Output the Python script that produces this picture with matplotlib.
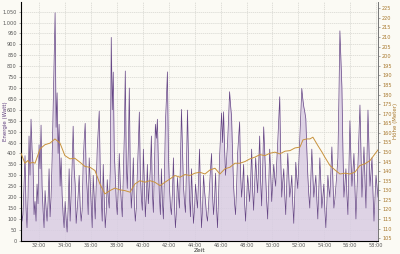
import numpy as np
import matplotlib
matplotlib.use("Agg")
import matplotlib.pyplot as plt
from matplotlib.ticker import FuncFormatter, MultipleLocator

# time range of the ride (seconds)
t_start = 1837
t_end = 3488

# power (Watt), evenly sampled between t_start and t_end
power = [240, 90, 120, 250, 390, 150, 60, 200, 480, 300,
         557, 420, 350, 120, 180, 90, 260, 170, 440, 330,
         530, 250, 140, 60, 230, 150, 90, 180, 330, 110,
         200, 370, 600, 820, 1045, 520, 678, 400, 534, 250,
         380, 210, 120, 60, 180, 100, 40, 150, 330, 90,
         210, 350, 525, 330, 260, 80, 140, 210, 300, 160,
         90, 140, 360, 460, 538, 310, 230, 120, 380, 270,
         150, 60, 300, 200, 100, 250, 420, 510, 594, 330,
         200, 90, 350, 190, 60, 130, 280, 200, 150, 320,
         932, 600, 773, 410, 300, 180, 120, 240, 400, 260,
         180, 110, 300, 480, 778, 350, 240, 420, 700, 300,
         150, 230, 380, 170, 90, 150, 310, 440, 590, 310,
         200, 140, 420, 260, 110, 200, 350, 170, 250, 330,
         480, 220, 130, 320, 534, 470, 557, 350, 200, 120,
         330, 180, 100, 290, 539, 650, 774, 400, 250, 160,
         120, 220, 380, 170, 60, 130, 290, 210, 150, 360,
         602, 420, 250, 180, 130, 340, 599, 380, 200, 110,
         330, 190, 80, 140, 260, 200, 150, 270, 420, 210,
         60, 140, 300, 230, 180, 120, 90, 160, 250, 330,
         400, 210, 120, 190, 310, 150, 60, 200, 380, 480,
         586, 450, 591, 420, 300, 370, 450, 560, 683, 620,
         568, 390, 250, 170, 120, 250, 400, 470, 545, 300,
         200, 260, 350, 170, 90, 190, 300, 240, 180, 280,
         420, 230, 140, 260, 380, 290, 220, 350, 480, 270,
         160, 330, 522, 410, 300, 180, 100, 250, 420, 310,
         180, 260, 350, 290, 250, 360, 450, 560, 660, 380,
         200, 270, 330, 210, 120, 260, 400, 300, 200, 240,
         300, 170, 80, 210, 360, 290, 240, 350, 460, 580,
         698, 650, 614, 590, 560, 420, 300, 210, 150, 280,
         420, 300, 200, 250, 300, 190, 100, 240, 380, 260,
         150, 200, 260, 140, 60, 170, 300, 240, 200, 310,
         430, 280, 150, 190, 250, 310, 380, 650, 962, 830,
         705, 420, 200, 260, 330, 210, 120, 330, 550, 380,
         250, 320, 400, 240, 100, 220, 350, 480, 622, 410,
         200, 310, 430, 280, 150, 370, 599, 420, 250, 310,
         380, 220, 90, 190, 300, 250, 200]

# elevation (Meter)
elev_time = [1837, 1855, 1869, 1878, 1892, 1902, 1925, 1948, 1971, 1994,
             2017, 2040, 2063, 2086, 2110, 2133, 2156, 2179, 2202, 2225,
             2248, 2271, 2295, 2318, 2341, 2364, 2387, 2410, 2433, 2456,
             2480, 2503, 2526, 2549, 2572, 2595, 2618, 2641, 2664, 2688,
             2711, 2734, 2757, 2780, 2803, 2826, 2849, 2873, 2896, 2919,
             2942, 2965, 2988, 3011, 3034, 3058, 3081, 3104, 3127, 3141,
             3159, 3173, 3187, 3210, 3229, 3242, 3266, 3289, 3312, 3335,
             3358, 3381, 3404, 3427, 3451, 3474, 3488]
elevation = [149.3, 144.1, 145.5, 144.1, 144.6, 144.1, 151.6, 153.8, 154.6, 156.8,
             154.7, 148.1, 146.4, 146.7, 144.6, 142.4, 142.0, 140.3, 133.3, 128.1,
             129.8, 131.1, 130.2, 129.8, 129.0, 133.3, 135.0, 134.2, 135.0, 134.2,
             132.4, 134.2, 135.9, 137.7, 136.8, 138.2, 137.7, 138.9, 139.4, 138.5,
             140.6, 141.5, 138.5, 141.2, 142.0, 144.1, 144.1, 145.0, 146.4, 147.3,
             148.6, 148.1, 149.3, 149.9, 149.0, 150.4, 150.7, 152.1, 152.5, 156.3,
             156.8, 156.8, 157.7, 153.3, 149.9, 147.3, 142.9, 140.6, 138.5, 138.9,
             138.5, 139.4, 142.9, 143.8, 145.5, 149.0, 151.1]

bg = '#fbfaf4'
purple = '#5e3d7e'
line_col = '#654585'
fill_col = '#d9cde3'
orange = '#c8923c'
tick_col = '#555555'

power_time = np.linspace(t_start, t_end, len(power))

fig = plt.figure(figsize=(4, 2.54), dpi=100, facecolor=bg)
ax = fig.add_axes([0.0525, 0.052, 0.8925, 0.94], facecolor=bg)

ax.fill_between(power_time, power, 0, color=fill_col, alpha=0.85, lw=0, zorder=2)
ax.plot(power_time, power, color=line_col, lw=0.5, zorder=3)

ax.set_xlim(t_start, t_end)
ax.set_ylim(0, 1094)
ax.yaxis.set_major_locator(MultipleLocator(50))
ax.xaxis.set_major_locator(MultipleLocator(120))
ax.xaxis.set_major_formatter(FuncFormatter(lambda v, p: '%d:%02d' % (v // 60, v % 60)))
ax.yaxis.set_major_formatter(FuncFormatter(lambda v, p: '{:,.0f}'.format(v).replace(',', '.')))
ax.grid(True, color='#d6d6d0', linestyle=(0, (2, 1)), lw=0.5, zorder=0)
ax.set_axisbelow(True)

ax.tick_params(axis='both', labelsize=3.6, length=1.5, width=0.4,
               colors='#666666', labelcolor=tick_col, pad=1.5)
ax.tick_params(axis='x', length=1, pad=0.6)
ax.spines['top'].set_visible(False)
for s in ['left', 'bottom', 'right']:
    ax.spines[s].set_color('#777777')
    ax.spines[s].set_linewidth(0.6)

ax2 = ax.twinx()
ax2.plot(elev_time, elevation, color=orange, lw=0.7, zorder=4)
ax2.set_ylim(103.6, 228.3)
ax2.yaxis.set_major_locator(MultipleLocator(5))
ax2.tick_params(axis='y', labelsize=3.6, length=1.5, width=0.4,
                colors='#666666', labelcolor='#a8782c', pad=1.5)
ax2.spines['top'].set_visible(False)
ax2.spines['right'].set_color('#777777')
ax2.spines['right'].set_linewidth(0.6)

# axis titles placed like the reference
fig.text(0.0135, 0.523, 'Energie (Watt)', rotation=90, fontsize=4,
         color=purple, ha='center', va='center')
fig.text(0.988, 0.523, 'Höhe (Meter)', rotation=90, fontsize=4,
         color='#a8782c', ha='center', va='center')
fig.text(0.5, 0.012, 'Zeit', fontsize=4.2, color='#333333',
         ha='center', va='center')

fig.savefig('out.png', dpi=100, facecolor=bg)
